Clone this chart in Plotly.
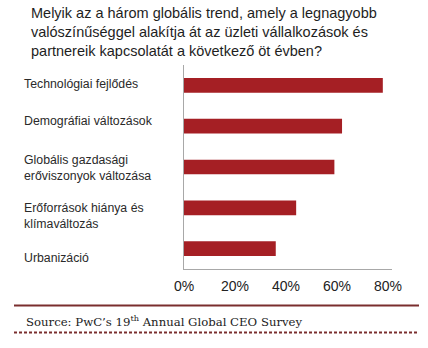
import plotly.graph_objects as go

categories = [
    "Technológiai fejlődés",
    "Demográfiai változások",
    "Globális gazdasági<br>erőviszonyok változása",
    "Erőforrások hiánya és<br>klímaváltozás",
    "Urbanizáció",
]
values = [78, 62, 59, 44, 36]
tick_vals = [0, 20, 40, 60, 80]
tick_text = ["0%", "20%", "40%", "60%", "80%"]
title_text = ("Melyik az a három globális trend, amely a legnagyobb<br>"
              "valószínűséggel alakítja át az üzleti vállalkozások és<br>"
              "partnereik kapcsolatát a következő öt évben?")
source_text = "Source: PwC’s 19<sup>th</sup> Annual Global CEO Survey"

W, H = 428, 348
L, R, T, B = 184, 36, 65, 79
pw = W - L - R
ph = H - T - B

def px_x(x):
    return (x - L) / pw

def px_y(y):
    return (H - B - y) / ph

fig = go.Figure()
fig.add_trace(go.Bar(
    y=list(range(len(categories))),
    x=values,
    orientation="h",
    marker=dict(color="#a51f24", line=dict(width=0)),
    width=0.36,
    hoverinfo="skip",
))

shifts = [1, 5, -1, -8, -9]
annotations = []
for i, c in enumerate(categories):
    annotations.append(dict(
        x=px_x(22), xref="paper", y=i, yref="y",
        text=c, showarrow=False, xanchor="left", yanchor="middle",
        align="left", yshift=shifts[i],
        font=dict(family="Liberation Sans, Arial", size=12.3, color="#2a2a2a"),
    ))

annotations.append(dict(
    x=px_x(29), xref="paper", y=px_y(3), yref="paper",
    text=title_text, showarrow=False, xanchor="left", yanchor="top",
    align="left",
    font=dict(family="Liberation Sans, Arial", size=14.5, color="#1e1e1e"),
))

annotations.append(dict(
    x=px_x(24), xref="paper", y=px_y(321), yref="paper",
    text=source_text, showarrow=False, xanchor="left", yanchor="middle",
    font=dict(family="DejaVu Serif, Georgia, serif", size=11.7, color="#222222"),
))

shapes = [
    dict(type="line", xref="paper", yref="paper",
         x0=px_x(14), x1=px_x(419), y0=px_y(305.5), y1=px_y(305.5),
         line=dict(color="#7a2e2e", width=2)),
    dict(type="line", xref="paper", yref="paper",
         x0=px_x(14), x1=px_x(419), y0=px_y(332.5), y1=px_y(332.5),
         line=dict(color="#7a2e2e", width=2, dash="3px,2px")),
]

fig.update_layout(
    width=W, height=H,
    margin=dict(l=L, r=R, t=T, b=B, pad=0),
    paper_bgcolor="white", plot_bgcolor="white",
    showlegend=False,
    xaxis=dict(
        range=[0, 81.6], tickvals=tick_vals, ticktext=tick_text,
        showgrid=False, zeroline=False, showline=True,
        linecolor="#a8a8a8", linewidth=1, ticks="",
        ticklabelstandoff=4,
        tickfont=dict(family="Liberation Sans, Arial", size=14, color="#222222"),
        fixedrange=True,
    ),
    yaxis=dict(
        range=[4.5, -0.5], showticklabels=False, showgrid=False,
        zeroline=False, showline=True, linecolor="#a8a8a8", linewidth=1,
        ticks="", fixedrange=True,
    ),
    annotations=annotations,
    shapes=shapes,
)

fig.write_html("out.html", config={"displayModeBar": False})
